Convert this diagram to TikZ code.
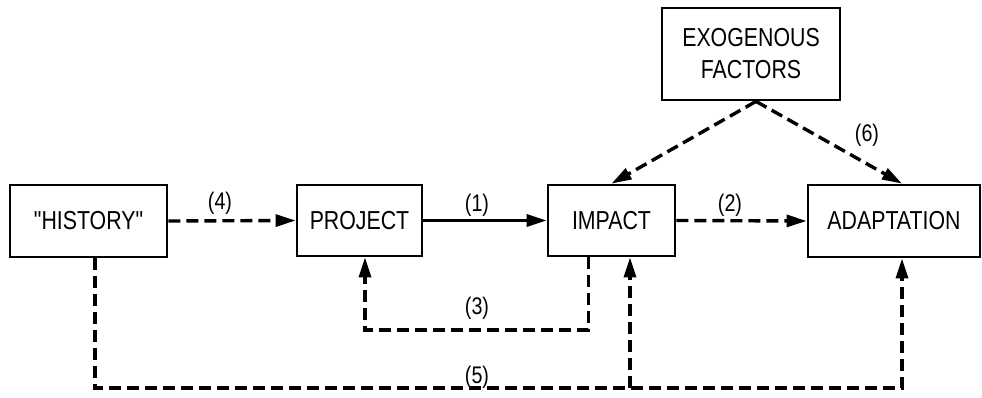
\documentclass[tikz,border=0pt]{standalone}
\usepackage{fontspec}
\setmainfont{Liberation Sans}[FakeStretch=0.82]
% family without TeX ligatures, so that " stays a straight quote
\newfontfamily\plainquotes{Liberation Sans}[FakeStretch=0.82]
\usetikzlibrary{arrows.meta,calc}
\begin{document}
\begin{tikzpicture}[x=1pt,y=-1pt,
  box/.style={draw,line width=2.8pt,minimum width=#1,inner sep=0pt,font=\fontsize{26}{32}\selectfont},
  flow/.style={line width=3.4pt,-{Triangle[length=20pt,width=12pt]}},
  dflow/.style={flow,dash pattern=on 12pt off 6pt},
  lbl/.style={font=\fontsize{24}{28}\selectfont,inner sep=0pt}]
\useasboundingbox (0,0) rectangle (982,398);

% blocks
\node[box=157pt,minimum height=72pt] (his) at (88.5,221) {\plainquotes "HISTORY"};
\node[box=125pt,minimum height=71pt] (proj) at (359.5,220.5) {PROJECT};
\node[box=127pt,minimum height=71pt] (imp) at (611.5,220.5) {IMPACT};
\node[box=172pt,minimum height=72pt] (adapt) at (894,221) {ADAPTATION};
\node[box=178pt,minimum height=92pt,align=center] (exo) at (751,54) {EXOGENOUS\\FACTORS};

% forward chain
\draw[dflow] (his.east) -- (proj.west);
\draw[flow] (proj.east) -- (imp.west);
\draw[dflow] (imp.east) -- (adapt.west);

% exogenous influences
\coordinate (exoS) at ($(exo.south)+(5,0)$);
\draw[dflow] (exoS) -- (imp.north);
\draw[dflow] (exoS) -- ($(adapt.north)+(8,0)$);

% feedback (3)
\coordinate (f3a) at ($(imp.south)+(-23,0)$);
\coordinate (f3b) at ($(proj.south)+(5.5,0)$);
\draw[dflow] (f3a) -- (f3a |- 0,330) -- (f3b |- 0,330) -- (f3b);

% history link (5)
\coordinate (f5a) at ($(his.south)+(6.5,0)$);
\coordinate (f5b) at ($(imp.south)+(18.5,0)$);
\coordinate (f5c) at ($(adapt.south)+(8,0)$);
\draw[dflow] (f5a) -- (f5a |- 0,388) -- (f5c |- 0,388) -- (f5c);
\draw[dflow] (f5b |- 0,388) -- (f5b);

% labels
\node[lbl] (l4) at (220,203) {(4)};
\node[lbl] (l1) at (477,205) {(1)};
\node[lbl] (l2) at (730,205) {(2)};
\node[lbl] (l6) at (867,135) {(6)};
\node[lbl] (l3) at (477,308) {(3)};
\node[lbl] (l5) at (477,377) {(5)};
\end{tikzpicture}
\end{document}
